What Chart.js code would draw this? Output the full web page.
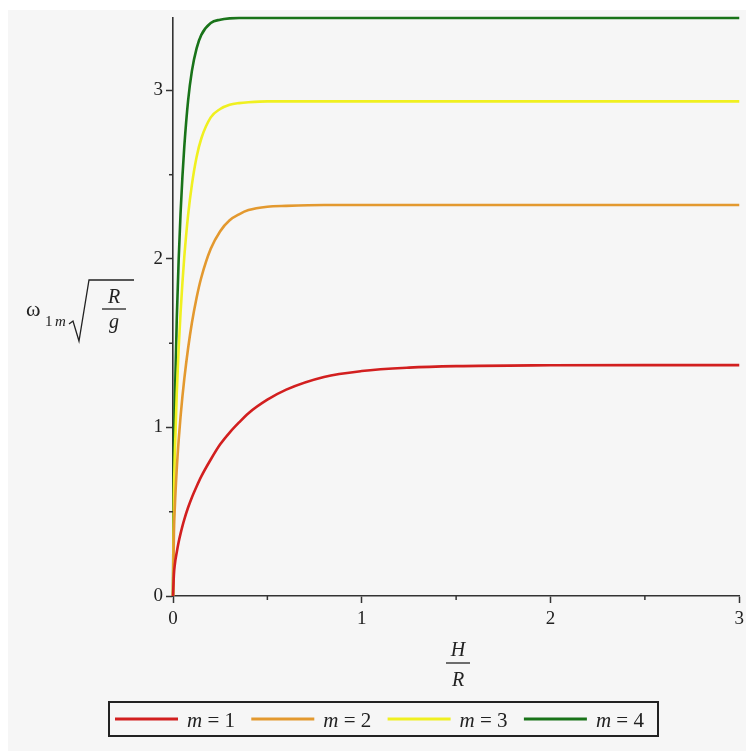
<!DOCTYPE html>
<html>
<head>
<meta charset="utf-8">
<script src="https://cdn.jsdelivr.net/npm/chart.js@4/dist/chart.umd.min.js"></script>
<style>
  html, body { margin: 0; padding: 0; background: #ffffff; }
  canvas { display: block; }
</style>
</head>
<body>
<canvas id="freqChart" width="749" height="751"></canvas>
<script>
// depth ratio H/R
var hRatio = [0, 0.005, 0.01, 0.02, 0.03, 0.04, 0.05, 0.06, 0.08, 0.1, 0.125, 0.15, 0.2, 0.25, 0.3, 0.35, 0.4, 0.5, 0.6, 0.8, 1, 1.25, 1.5, 2, 2.5, 3];

// dimensionless frequency w_1m * sqrt(R/g) for each m
var omega_m1 = [0, 0.13, 0.19, 0.26, 0.32, 0.37, 0.415, 0.455, 0.525, 0.585, 0.65, 0.71, 0.81, 0.90, 0.97, 1.03, 1.085, 1.165, 1.225, 1.30, 1.335, 1.355, 1.364, 1.369, 1.37, 1.37];
var omega_m2 = [0, 0.38, 0.535, 0.755, 0.925, 1.065, 1.185, 1.29, 1.47, 1.62, 1.77, 1.89, 2.06, 2.165, 2.23, 2.265, 2.29, 2.31, 2.315, 2.32, 2.32, 2.32, 2.32, 2.32, 2.32, 2.32];
var omega_m3 = [0, 0.605, 0.855, 1.205, 1.47, 1.68, 1.86, 2.015, 2.26, 2.44, 2.605, 2.715, 2.84, 2.89, 2.915, 2.925, 2.93, 2.935, 2.935, 2.935, 2.935, 2.935, 2.935, 2.935, 2.935, 2.935];
var omega_m4 = [0, 0.83, 1.17, 1.645, 1.995, 2.27, 2.49, 2.67, 2.94, 3.115, 3.25, 3.33, 3.40, 3.42, 3.428, 3.43, 3.43, 3.43, 3.43, 3.43, 3.43, 3.43, 3.43, 3.43, 3.43, 3.43];

var modeLabels = ["1", "2", "3", "4"];
var modeColors = ["#d21f1f", "#e3992f", "#f0f020", "#197319"];
var xTicks = [0, 1, 2, 3];
var yTicks = [0, 1, 2, 3];

var SERIF = '"Liberation Serif", "DejaVu Serif", serif';
var AXIS_COLOR = "#333333";

function toPoints(ys) {
    return hRatio.map(function (h, i) { return { x: h, y: ys[i] }; });
}

var allSeries = [omega_m1, omega_m2, omega_m3, omega_m4];
var datasets = allSeries.map(function (s, i) {
    return {
        label: "m = " + modeLabels[i],
        data: toPoints(s),
        borderColor: modeColors[i],
        backgroundColor: modeColors[i],
        borderWidth: 2.6,
        pointRadius: 0,
        cubicInterpolationMode: "monotone",
        clip: 4
    };
});

function isMajor(v, list) {
    return list.indexOf(Math.round(v * 1000) / 1000) !== -1;
}

// grey panel behind the plot
var panelBg = {
    id: "panelBg",
    beforeDraw: function (chart) {
        var c = chart.ctx;
        c.save();
        c.fillStyle = "#f6f6f6";
        c.fillRect(8, 10, 738, 741);
        c.restore();
    }
};

// short minor ticks at the half steps
var minorTicks = {
    id: "minorTicks",
    afterDraw: function (chart) {
        var c = chart.ctx;
        var xs = chart.scales.x, ys = chart.scales.y;
        c.save();
        c.strokeStyle = AXIS_COLOR;
        c.lineWidth = 1.5;
        xs.ticks.forEach(function (t) {
            if (isMajor(t.value, xTicks)) return;
            var px = xs.getPixelForValue(t.value);
            c.beginPath();
            c.moveTo(px, ys.bottom);
            c.lineTo(px, ys.bottom + 4);
            c.stroke();
        });
        ys.ticks.forEach(function (t) {
            if (isMajor(t.value, yTicks)) return;
            var py = ys.getPixelForValue(t.value);
            c.beginPath();
            c.moveTo(xs.left, py);
            c.lineTo(xs.left - 4, py);
            c.stroke();
        });
        c.restore();
    }
};

// axis titles: w_1m sqrt(R/g) and H/R
var axisTitles = {
    id: "axisTitles",
    afterDraw: function (chart) {
        var c = chart.ctx;
        c.save();
        c.fillStyle = "#222";
        c.strokeStyle = "#222";
        c.textBaseline = "alphabetic";

        // y title
        c.textAlign = "left";
        c.font = "22px " + SERIF;
        c.fillText("\u03C9", 26, 316);
        c.font = "15px " + SERIF;
        c.fillText("1", 45, 326);
        c.font = "italic 15px " + SERIF;
        c.fillText("m", 55, 326);

        c.lineWidth = 1.3;
        c.beginPath();
        c.moveTo(69, 324);
        c.lineTo(73, 321);
        c.lineTo(79, 341);
        c.lineTo(89, 280);
        c.lineTo(134, 280);
        c.stroke();

        c.textAlign = "center";
        c.font = "italic 20px " + SERIF;
        c.fillText("R", 114, 303);
        c.fillText("g", 114, 328);
        c.beginPath();
        c.moveTo(102, 309);
        c.lineTo(126, 309);
        c.stroke();

        // x title
        c.fillText("H", 458, 656);
        c.fillText("R", 458, 686);
        c.beginPath();
        c.moveTo(446, 663);
        c.lineTo(470, 663);
        c.stroke();
        c.restore();
    }
};

// boxed legend under the x title
var boxLegend = {
    id: "boxLegend",
    afterDraw: function (chart) {
        var c = chart.ctx;
        c.save();
        c.strokeStyle = "#222";
        c.lineWidth = 2;
        c.strokeRect(109, 702, 549, 34);
        chart.data.datasets.forEach(function (ds, i) {
            var x0 = 115 + i * 136.3;
            c.strokeStyle = ds.borderColor;
            c.lineWidth = 3;
            c.beginPath();
            c.moveTo(x0, 719);
            c.lineTo(x0 + 63, 719);
            c.stroke();
            c.fillStyle = "#222";
            c.textAlign = "left";
            c.font = "italic 21px " + SERIF;
            c.fillText("m", x0 + 72, 727);
            var mw = c.measureText("m").width;
            c.font = "21px " + SERIF;
            c.fillText(" = " + modeLabels[i], x0 + 72 + mw, 727);
        });
        c.restore();
    }
};

var tickFont = { family: SERIF, size: 19 };

new Chart(document.getElementById("freqChart").getContext("2d"), {
    type: "line",
    data: { datasets: datasets },
    plugins: [panelBg, minorTicks, axisTitles, boxLegend],
    options: {
        responsive: false,
        animation: false,
        layout: { padding: { left: 0, right: 8, top: 18, bottom: 0 } },
        plugins: {
            legend: { display: false },
            tooltip: { enabled: false }
        },
        scales: {
            x: {
                type: "linear",
                min: 0,
                max: 3,
                afterFit: function (s) { s.height = 155; },
                ticks: {
                    stepSize: 0.5,
                    includeBounds: false,
                    maxRotation: 0,
                    autoSkip: false,
                    padding: 5,
                    color: "#222",
                    font: tickFont,
                    callback: function (v) { return isMajor(v, xTicks) ? String(v) : ""; }
                },
                grid: {
                    drawOnChartArea: false,
                    tickLength: 7,
                    tickWidth: 1.5,
                    tickColor: function (ctx) { return ctx.tick && isMajor(ctx.tick.value, xTicks) ? AXIS_COLOR : "rgba(0,0,0,0)"; }
                },
                border: { color: AXIS_COLOR, width: 1.6 }
            },
            y: {
                type: "linear",
                min: 0,
                max: 3.43,
                afterFit: function (s) { s.width = 173; },
                ticks: {
                    stepSize: 0.5,
                    includeBounds: false,
                    autoSkip: false,
                    padding: 3,
                    color: "#222",
                    font: tickFont,
                    callback: function (v) { return isMajor(v, yTicks) ? String(v) : ""; }
                },
                grid: {
                    drawOnChartArea: false,
                    tickLength: 7,
                    tickWidth: 1.5,
                    tickColor: function (ctx) { return ctx.tick && isMajor(ctx.tick.value, yTicks) ? AXIS_COLOR : "rgba(0,0,0,0)"; }
                },
                border: { color: AXIS_COLOR, width: 1.6 }
            }
        }
    }
});
</script>
</body>
</html>
